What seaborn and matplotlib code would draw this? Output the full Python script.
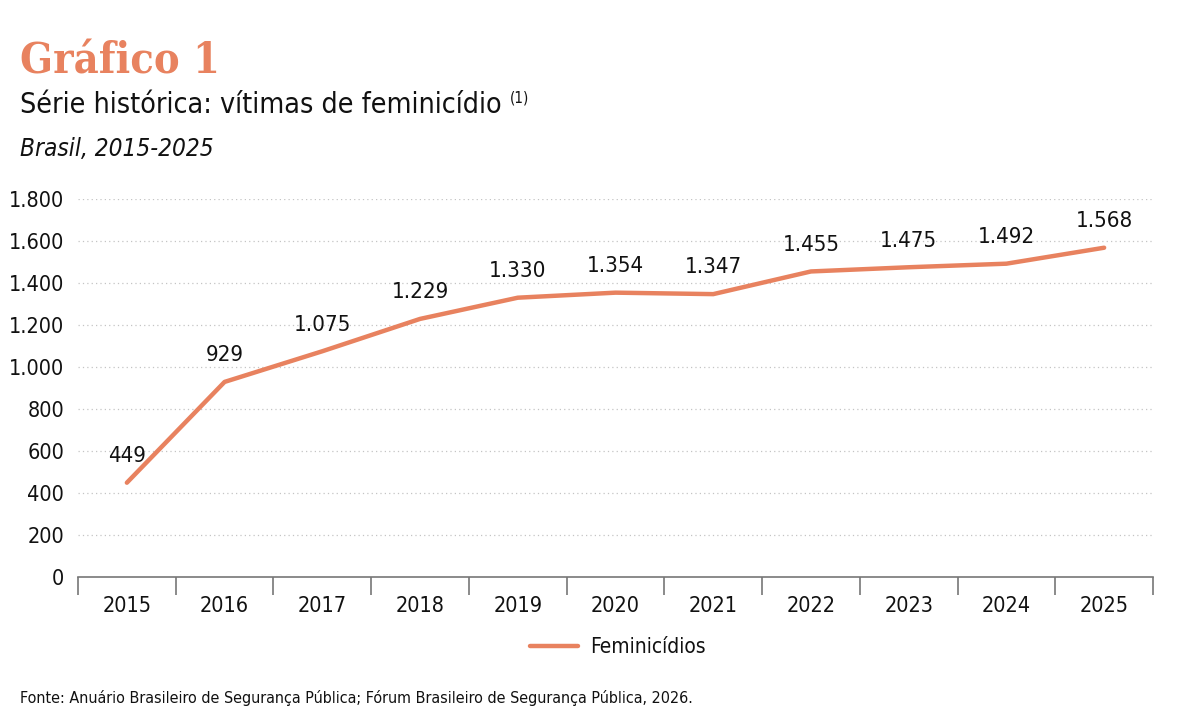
import pandas as pd
import numpy as np
import seaborn as sns
import matplotlib.pyplot as plt
from matplotlib.ticker import FixedLocator, FuncFormatter

sns.set_theme(style="white")
plt.rcParams['font.family'] = ['DejaVu Sans']
plt.rcParams['font.stretch'] = 'condensed'

years = ['2015', '2016', '2017', '2018', '2019', '2020', '2021', '2022', '2023', '2024', '2025']
feminicidios = [449, 929, 1075, 1229, 1330, 1354, 1347, 1455, 1475, 1492, 1568]
yticks = [0, 200, 400, 600, 800, 1000, 1200, 1400, 1600, 1800]

orange = '#E8825F'

def br(v):
    return f"{int(v):,}".replace(',', '.')

df = pd.DataFrame({'ano': years, 'valor': feminicidios})

fig = plt.figure(figsize=(12.02, 7.22), dpi=100)
ax = fig.add_axes([78 / 1202, 145 / 722, (1153 - 78) / 1202, (577 - 199) / 722])

sns.lineplot(data=df, x='ano', y='valor', color=orange, linewidth=3.2,
             label='Feminicídios', ax=ax, sort=False)

for i, v in enumerate(feminicidios):
    ax.annotate(br(v), (i, v), xytext=(0, 12), textcoords='offset points',
                ha='center', va='bottom', fontsize=16, color='#111111', clip_on=False)

ax.set_xlim(-0.5, len(years) - 0.5)
ax.set_ylim(0, 1800)
ax.set_yticks(yticks)
ax.yaxis.set_major_formatter(FuncFormatter(lambda v, p: br(v)))
ax.xaxis.set_minor_locator(FixedLocator(np.arange(-0.5, len(years), 1)))
ax.tick_params(axis='x', which='major', length=0, pad=14, labelsize=15.5, labelcolor='#111111')
ax.tick_params(axis='x', which='minor', length=13, width=1.2, color='#777777', bottom=True)
ax.tick_params(axis='y', length=0, pad=10, labelsize=15.5, labelcolor='#111111')
ax.set_xlabel('')
ax.set_ylabel('')

for y in yticks[1:]:
    ax.axhline(y, color='#c4c4c4', linestyle=(0, (1, 2.5)), linewidth=0.9, zorder=0)

for s in ['top', 'right', 'left']:
    ax.spines[s].set_visible(False)
ax.spines['bottom'].set_color('#777777')
ax.spines['bottom'].set_linewidth(1.2)

leg = ax.legend(loc='center', bbox_to_anchor=(618 / 1202, 75 / 722),
                bbox_transform=fig.transFigure, frameon=False, fontsize=15,
                handlelength=2.3, handletextpad=0.6)
for t in leg.get_texts():
    t.set_color('#111111')

fig.text(20 / 1202, 1 - 62 / 722, 'Gráfico 1', fontsize=31, fontweight='bold',
         color=orange, family=['DejaVu Serif'], fontstretch='condensed', va='center', ha='left')
sub = fig.text(20 / 1202, 1 - 105 / 722, 'Série histórica: vítimas de feminicídio', fontsize=20.5,
               color='#111111', va='center', ha='left')
fig.canvas.draw()
bb = sub.get_window_extent(fig.canvas.get_renderer())
fig.text((bb.x1 + 8) / 1202, 1 - 98 / 722, '(1)', fontsize=11, color='#111111', va='center', ha='left')
fig.text(20 / 1202, 1 - 149 / 722, 'Brasil, 2015-2025', fontsize=17.5, style='italic',
         color='#111111', va='center', ha='left')
fig.text(20 / 1202, 1 - 698 / 722,
         'Fonte: Anuário Brasileiro de Segurança Pública; Fórum Brasileiro de Segurança Pública, 2026.',
         fontsize=11.5, color='#111111', va='center', ha='left')

plt.savefig('out.png', dpi=100)
